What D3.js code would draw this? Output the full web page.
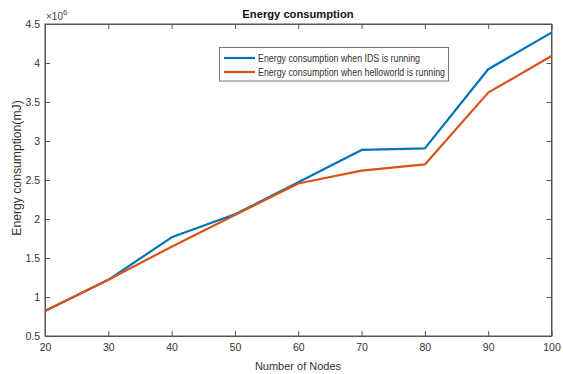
<!DOCTYPE html>
<html><head><meta charset="utf-8">
<script src="https://cdn.jsdelivr.net/npm/d3@7"></script>
<style>body{margin:0;background:#fff}svg{display:block;font-family:"Liberation Sans",Arial,sans-serif}</style>
</head><body><svg id="c" width="563" height="374"></svg>
<script>
const nodes = [20, 30, 40, 50, 60, 70, 80, 90, 100];
const idsValues = [0.82, 1.22, 1.765, 2.06, 2.47, 2.885, 2.905, 3.92, 4.39];
const helloValues = [0.82, 1.22, 1.645, 2.05, 2.455, 2.62, 2.70, 3.62, 4.09];
const xTicks = [20, 30, 40, 50, 60, 70, 80, 90, 100];
const yTicks = [0.5, 1, 1.5, 2, 2.5, 3, 3.5, 4, 4.5];
const seriesNames = ["Energy consumption when IDS is running", "Energy consumption when helloworld is running"];
const colors = ["#0072BD", "#D95319"];

const svg = d3.select("#c");
const L = 45, R = 551.5, T = 24, B = 336;
const x = d3.scaleLinear().domain([20, 100]).range([L, R]);
const y = d3.scaleLinear().domain([0.5, 4.5]).range([B, T]);
const axCol = "#555";

svg.append("rect").attr("x", L).attr("y", T).attr("width", R - L).attr("height", B - T)
  .attr("fill", "#fff").attr("stroke", axCol).attr("stroke-width", 1);

const fmt = d => String(d);
const gx = svg.append("g").attr("transform", `translate(0,${B})`)
  .call(d3.axisBottom(x).tickValues(xTicks).tickSizeInner(-5).tickSizeOuter(0).tickPadding(8).tickFormat(fmt));
const gxt = svg.append("g").attr("transform", `translate(0,${T})`)
  .call(d3.axisTop(x).tickValues(xTicks).tickSizeInner(-5).tickSizeOuter(0).tickFormat(""));
const gy = svg.append("g").attr("transform", `translate(${L},0)`)
  .call(d3.axisLeft(y).tickValues(yTicks).tickSizeInner(-5).tickSizeOuter(0).tickPadding(5).tickFormat(fmt));
const gyr = svg.append("g").attr("transform", `translate(${R},0)`)
  .call(d3.axisRight(y).tickValues(yTicks).tickSizeInner(-5).tickSizeOuter(0).tickFormat(""));
[gx, gxt, gy, gyr].forEach(g => {
  g.select(".domain").attr("stroke", axCol);
  g.selectAll(".tick line").attr("stroke", axCol);
  g.selectAll(".tick text").attr("fill", "#333").style("font-size", "10.5px").style("font-family", "'Liberation Sans',Arial,sans-serif");
});

const line = d3.line().x((d, i) => x(nodes[i])).y(d => y(d));
[idsValues, helloValues].forEach((vals, k) => {
  svg.append("path").datum(vals).attr("d", line).attr("fill", "none")
    .attr("stroke", colors[k]).attr("stroke-width", 2.2).attr("stroke-linejoin", "round");
});

svg.append("text").attr("x", 298).attr("y", 18).attr("text-anchor", "middle")
  .style("font-size", "11.2px").style("font-weight", "bold").attr("fill", "#111").text("Energy consumption");

const ex = svg.append("text").attr("x", 46).attr("y", 20).attr("fill", "#444").style("font-size", "10px");
ex.append("tspan").text("×10");
ex.append("tspan").attr("dy", -5).style("font-size", "8px").text("6");

svg.append("text").attr("x", 298).attr("y", 370).attr("text-anchor", "middle")
  .style("font-size", "11px").attr("fill", "#333").text("Number of Nodes");
svg.append("text").attr("transform", "translate(20.5,168) rotate(-90)").attr("text-anchor", "middle")
  .style("font-size", "12.2px").attr("fill", "#333").text("Energy consumption(mJ)");

const lg = svg.append("g");
lg.append("rect").attr("x", 219.5).attr("y", 47.5).attr("width", 229).attr("height", 33.5)
  .attr("fill", "#fff").attr("stroke", "#777").attr("stroke-width", 1);
const lens = [162, 187];
seriesNames.forEach((n, i) => {
  const yy = 58 + i * 14;
  lg.append("line").attr("x1", 224).attr("x2", 255).attr("y1", yy).attr("y2", yy)
    .attr("stroke", colors[i]).attr("stroke-width", 2.2);
  lg.append("text").attr("x", 258).attr("y", yy + 3.6).style("font-size", "10px")
    .attr("textLength", lens[i]).attr("lengthAdjust", "spacingAndGlyphs")
    .attr("fill", "#333").text(n);
});
</script></body></html>
